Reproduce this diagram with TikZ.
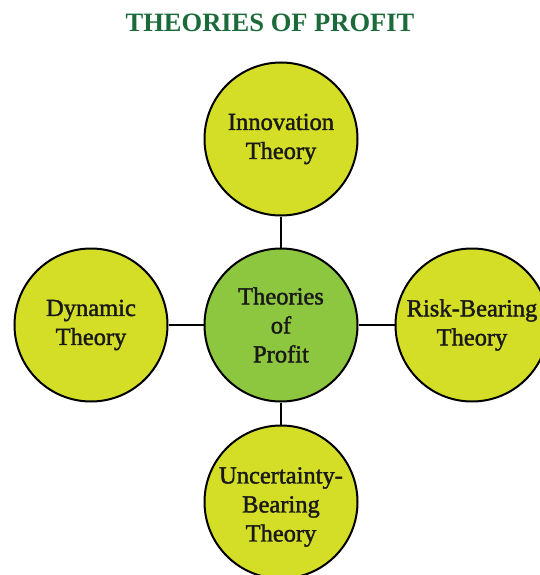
\documentclass[tikz,border=0pt]{standalone}
\usepackage{fontspec}
\setmainfont{Liberation Serif}
\newfontfamily\semibfont[FakeBold=1.6]{Liberation Serif}
\definecolor{titlegreen}{RGB}{27,107,58}
\definecolor{outerfill}{RGB}{213,222,38}
\definecolor{centerfill}{RGB}{141,198,63}
\begin{document}
\begin{tikzpicture}[x=1pt,y=-1pt,
  labeltext/.style={align=center, font=\semibfont\fontsize{24.5}{29}\selectfont, text=black!90},
  bubble/.style={circle, draw=black, line width=2pt, minimum size=153pt, inner sep=0pt, labeltext},
  outer/.style={bubble, fill=outerfill},
  hub/.style={bubble, fill=centerfill},
  link/.style={line width=2pt, draw=black}]
\useasboundingbox (0,0) rectangle (540,575);
\clip (0,0) rectangle (540,575);
\node[font=\fontsize{26.5}{30}\selectfont\bfseries, text=titlegreen] (title) at (270,23) {THEORIES OF PROFIT};
\node[hub] (c) at (281,325) {Theories\\of\\Profit};
\node[outer] (t) at (281,139) {Innovation\\Theory};
\node[outer] (l) at (91,325) {Dynamic\\Theory};
\node[outer] (r) at (472,325) {Risk-Bearing\\Theory};
\node[outer] (b) at (281,502) {};
\node[labeltext] (btext) at (281,507) {Uncertainty-\\Bearing\\Theory};
\draw[link] (c) -- (t);
\draw[link] (c) -- (l);
\draw[link] (c) -- (r);
\draw[link] (c) -- (b);
\end{tikzpicture}
\end{document}
